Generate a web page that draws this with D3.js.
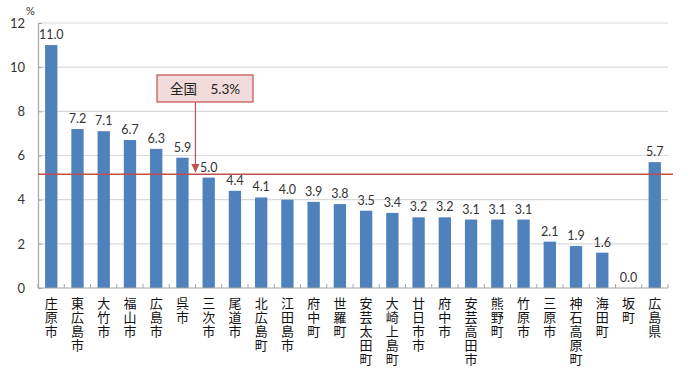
<!DOCTYPE html>
<html>
<head>
<meta charset="utf-8">
<script src="https://cdn.jsdelivr.net/npm/d3@7"></script>
<style>
  body { margin: 0; background: #fff; }
  text { font-family: Lato, "Noto Sans CJK JP", sans-serif; }
</style>
</head>
<body>
<script>
// data
var categories = ["庄原市","東広島市","大竹市","福山市","広島市","呉市","三次市","尾道市","北広島町",
  "江田島市","府中町","世羅町","安芸太田町","大崎上島町","廿日市市","府中市","安芸高田市",
  "熊野町","竹原市","三原市","神石高原町","海田町","坂町","広島県"];
var values = [11.0,7.2,7.1,6.7,6.3,5.9,5.0,4.4,4.1,4.0,3.9,3.8,3.5,3.4,3.2,3.2,3.1,3.1,3.1,2.1,1.9,1.6,0.0,5.7];
var yTicks = [0,2,4,6,8,10,12];
var nationalLabel = "全国　5.3%";
var nationalLine = 5.15; // where the reference draws its red line

var width = 700, height = 368;
var margin = {top: 23, right: 32, bottom: 80, left: 38};

var svg = d3.select("body").append("svg")
    .attr("width", width)
    .attr("height", height);

var x = d3.scaleBand()
    .domain(categories)
    .range([margin.left, width - margin.right])
    .paddingInner(0.53)
    .paddingOuter(0.27);

var y = d3.scaleLinear()
    .domain([0, 12])
    .range([height - margin.bottom, margin.top]);

// gridlines
svg.append("g")
    .selectAll("line")
    .data(yTicks.filter(function(d) { return d > 0; }))
    .enter().append("line")
    .attr("x1", margin.left)
    .attr("x2", width - margin.right)
    .attr("y1", function(d) { return y(d); })
    .attr("y2", function(d) { return y(d); })
    .attr("stroke", "#d9d9d9")
    .attr("stroke-width", 1.2);

// y axis
var yAxis = svg.append("g")
    .attr("transform", "translate(" + margin.left + ",0)")
    .call(d3.axisLeft(y).tickValues(yTicks).tickSizeInner(-4).tickSizeOuter(0).tickPadding(13));
yAxis.select(".domain").attr("stroke", "#a6a6a6").attr("stroke-width", 1.2);
yAxis.selectAll(".tick line").attr("stroke", "#a6a6a6");
yAxis.selectAll(".tick text").attr("font-size", "13px").attr("fill", "#333");

svg.append("text")
    .attr("x", 26)
    .attr("y", 15)
    .attr("font-size", "11px")
    .attr("fill", "#333")
    .text("%");

// bars
svg.append("g")
    .selectAll("rect")
    .data(values)
    .enter().append("rect")
    .attr("x", function(d, i) { return x(categories[i]); })
    .attr("width", x.bandwidth())
    .attr("y", function(d) { return y(d); })
    .attr("height", function(d) { return y(0) - y(d); })
    .attr("fill", "#4f81bd");

// data labels
svg.append("g")
    .selectAll("text")
    .data(values)
    .enter().append("text")
    .attr("x", function(d, i) { return x(categories[i]) + x.bandwidth() / 2; })
    .attr("y", function(d) { return y(d) - 6; })
    .attr("text-anchor", "middle")
    .attr("font-size", "12.5px")
    .attr("fill", "#333")
    .text(function(d) { return d.toFixed(1); });

// x axis
var bandW = (width - margin.right - margin.left) / categories.length;
var xAxis = svg.append("g");
xAxis.append("line")
    .attr("x1", margin.left)
    .attr("x2", width - margin.right)
    .attr("y1", y(0))
    .attr("y2", y(0))
    .attr("stroke", "#a6a6a6")
    .attr("stroke-width", 1.2);
xAxis.selectAll(".xtick")
    .data(d3.range(categories.length + 1))
    .enter().append("line")
    .attr("class", "xtick")
    .attr("x1", function(i) { return margin.left + i * bandW; })
    .attr("x2", function(i) { return margin.left + i * bandW; })
    .attr("y1", y(0))
    .attr("y2", y(0) - 4)
    .attr("stroke", "#a6a6a6");

// vertical category labels, one character per line
var labels = svg.append("g")
    .selectAll("g")
    .data(categories)
    .enter().append("g")
    .attr("transform", function(d) { return "translate(" + (x(d) + x.bandwidth() / 2) + "," + (y(0) + 20) + ")"; });
labels.selectAll("text")
    .data(function(d) { return d.split(""); })
    .enter().append("text")
    .attr("x", 0)
    .attr("y", function(c, i) { return i * 13.9; })
    .attr("text-anchor", "middle")
    .attr("font-size", "13px")
    .attr("fill", "#111")
    .text(function(c) { return c; });

// national average line
svg.append("line")
    .attr("x1", margin.left)
    .attr("x2", width - margin.right + 5)
    .attr("y1", y(nationalLine))
    .attr("y2", y(nationalLine))
    .attr("stroke", "#c0504d")
    .attr("stroke-width", 1.5);

// callout
svg.append("defs").append("marker")
    .attr("id", "arrow")
    .attr("viewBox", "0 0 10 10")
    .attr("refX", 10).attr("refY", 5)
    .attr("markerWidth", 7).attr("markerHeight", 7)
    .attr("orient", "auto")
    .append("path")
    .attr("d", "M0,0 L10,5 L0,10 z")
    .attr("fill", "#c0504d");

var calloutX = x(categories[5]) + x.bandwidth() / 2 + 13;
svg.append("line")
    .attr("x1", calloutX)
    .attr("x2", calloutX)
    .attr("y1", 102)
    .attr("y2", y(nationalLine) - 2)
    .attr("stroke", "#c0504d")
    .attr("stroke-width", 1.2)
    .attr("marker-end", "url(#arrow)");

svg.append("rect")
    .attr("x", 157)
    .attr("y", 75)
    .attr("width", 96)
    .attr("height", 27)
    .attr("fill", "#f2dcdb")
    .attr("stroke", "#c0504d")
    .attr("stroke-width", 1.2);

svg.append("text")
    .attr("x", 205)
    .attr("y", 94)
    .attr("text-anchor", "middle")
    .attr("font-size", "13.5px")
    .attr("fill", "#222")
    .text(nationalLabel);
</script>
</body>
</html>
